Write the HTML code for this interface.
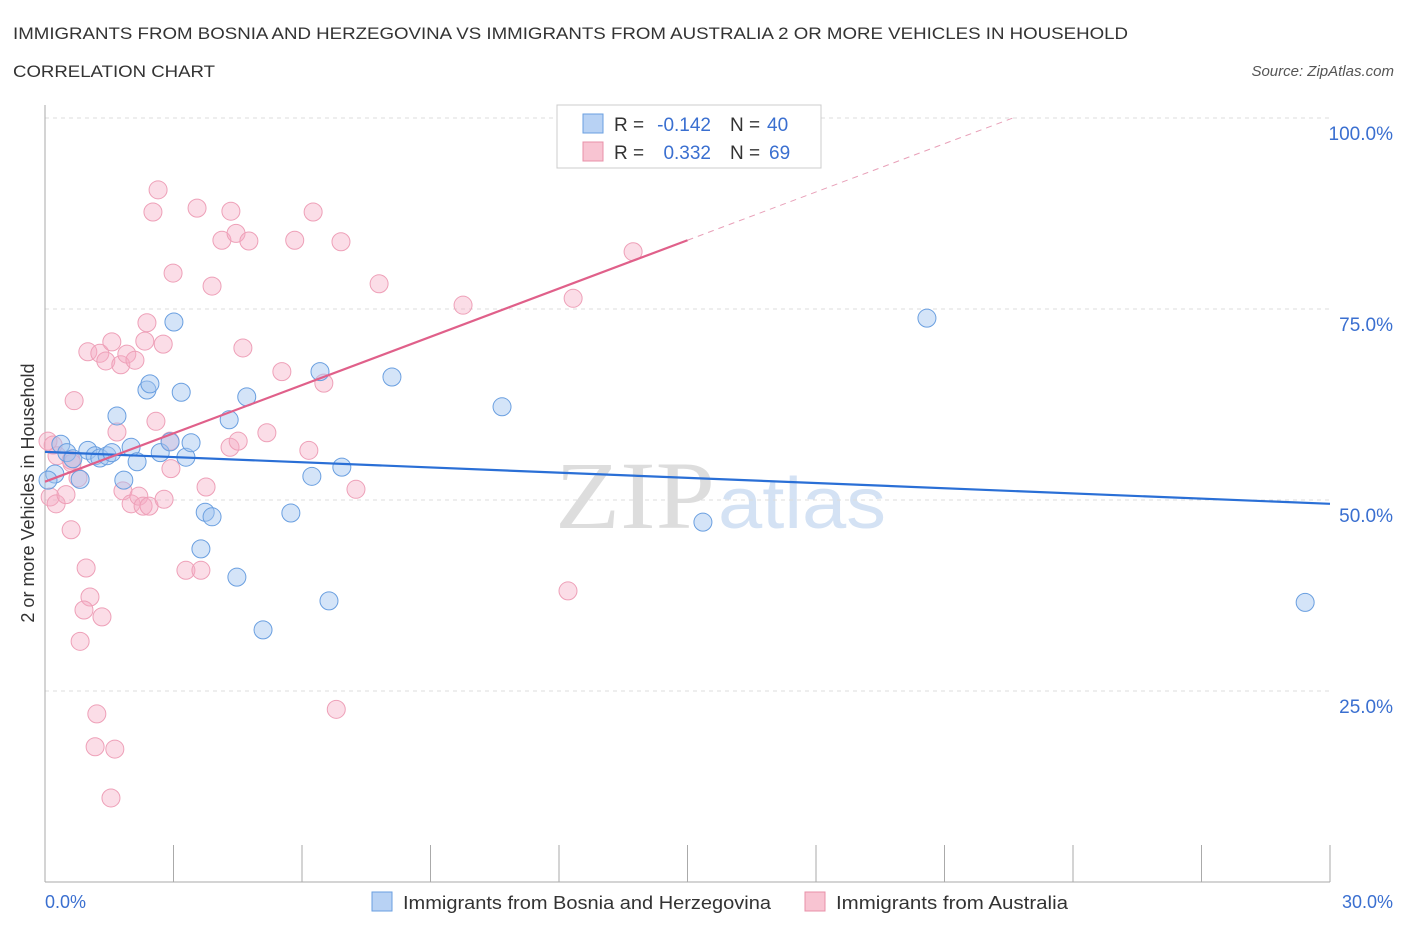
<!DOCTYPE html>
<html><head><meta charset="utf-8"><style>
body{margin:0;background:#fff;font-family:"Liberation Sans",sans-serif;}
svg{display:block}
</style></head><body>
<svg id="c" width="1406" height="930">
<text x="13" y="39" font-size="17" fill="#333" textLength="1115" lengthAdjust="spacingAndGlyphs">IMMIGRANTS FROM BOSNIA AND HERZEGOVINA VS IMMIGRANTS FROM AUSTRALIA 2 OR MORE VEHICLES IN HOUSEHOLD</text>
<text x="13" y="77" font-size="17" fill="#333" textLength="202" lengthAdjust="spacingAndGlyphs">CORRELATION CHART</text>
<text x="1394" y="76" font-size="15" fill="#555" text-anchor="end" font-style="italic">Source: ZipAtlas.com</text>
<text x="555" y="528" font-size="96" fill="#ddd" textLength="160" lengthAdjust="spacingAndGlyphs" font-family="Liberation Serif">ZIP</text>
<text x="718" y="528" font-size="72" fill="#d4e2f4" textLength="168" lengthAdjust="spacingAndGlyphs">atlas</text>
<g id="grid"></g>
<g id="pts"></g>
<g id="lines"></g>
<text transform="translate(34,493) rotate(-90)" font-size="18" fill="#333" text-anchor="middle">2 or more Vehicles in Household</text>
<text x="45" y="908" font-size="18" fill="#3a6fd0">0.0%</text>
<text x="1393" y="908" font-size="18" fill="#3a6fd0" text-anchor="end">30.0%</text>
<g>
<rect x="557" y="105" width="264" height="63" fill="#fff" stroke="#ccc"/>
<rect x="583" y="114" width="20" height="19" fill="#b8d2f4" stroke="#6a9fe0"/>
<rect x="583" y="142" width="20" height="19" fill="#f8c4d2" stroke="#e890a8"/>
<text x="614" y="131" font-size="19" fill="#333">R =</text>
<text x="711" y="131" font-size="19" fill="#3a6fd0" text-anchor="end">-0.142</text>
<text x="730" y="131" font-size="19" fill="#333">N =</text>
<text x="767" y="131" font-size="19" fill="#3a6fd0">40</text>
<text x="614" y="159" font-size="19" fill="#333">R =</text>
<text x="711" y="159" font-size="19" fill="#3a6fd0" text-anchor="end">0.332</text>
<text x="730" y="159" font-size="19" fill="#333">N =</text>
<text x="769" y="159" font-size="19" fill="#3a6fd0">69</text>
</g>
<g>
<rect x="372" y="892" width="20" height="19" fill="#b8d2f4" stroke="#6a9fe0"/>
<text x="403" y="909" font-size="18" fill="#333" textLength="368" lengthAdjust="spacingAndGlyphs">Immigrants from Bosnia and Herzegovina</text>
<rect x="805" y="892" width="20" height="19" fill="#f8c4d2" stroke="#e890a8"/>
<text x="836" y="909" font-size="18" fill="#333" textLength="232" lengthAdjust="spacingAndGlyphs">Immigrants from Australia</text>
</g>
</svg>
<script>
const yTicks=[100,75,50,25];
const yTickLabels=["100.0%","75.0%","50.0%","25.0%"];
const blueX=[0.37,0.23,0.07,0.51,0.65,0.82,1.0,1.17,1.28,1.45,1.56,1.68,1.84,2.01,2.15,2.38,2.45,2.69,2.92,3.01,3.18,3.29,3.41,3.64,3.74,3.90,4.30,4.48,4.71,5.09,5.74,6.23,6.42,6.63,6.93,8.10,10.67,15.36,20.59,29.42];
const blueY=[57.3,53.4,52.6,56.2,55.4,52.7,56.5,55.8,55.5,55.8,56.2,61.0,52.6,56.9,55.0,64.4,65.2,56.2,57.6,73.3,64.1,55.6,57.5,43.6,48.4,47.8,60.5,39.9,63.5,33.0,48.3,53.1,66.8,36.8,54.3,66.1,62.2,47.1,73.8,36.6];
const pinkX=[0.07,0.19,0.28,0.12,0.26,0.49,0.61,0.63,0.68,0.61,0.77,0.96,1.05,0.91,1.33,0.82,1.21,1.17,1.63,1.54,1.0,1.28,1.42,1.56,1.77,1.68,1.82,1.91,2.01,2.10,2.19,2.29,2.33,2.38,2.43,2.52,2.59,2.64,2.76,2.78,2.92,2.94,2.99,3.29,3.55,3.64,3.76,3.90,4.13,4.34,4.46,4.32,4.51,4.62,4.76,5.18,5.53,5.83,6.16,6.26,6.51,6.80,6.91,7.26,7.80,9.76,12.21,12.33,13.73];
const pinkY=[57.7,57.2,55.8,50.4,49.5,50.7,55.2,54.8,63.0,46.1,52.9,41.1,37.3,35.6,34.7,31.5,22.0,17.7,17.4,11.0,69.4,69.2,68.2,70.7,67.7,58.9,51.2,69.1,49.5,68.3,50.5,49.2,70.8,73.2,49.2,87.7,60.3,90.6,70.4,50.1,57.7,54.1,79.7,40.8,88.2,40.8,51.7,78.0,84.0,87.8,84.9,56.9,57.7,69.9,83.9,58.8,66.8,84.0,56.5,87.7,65.3,22.6,83.8,51.4,78.3,75.5,38.1,76.4,82.5];
const blueTrend=[56.3,49.5];
const pinkTrend=[52.4,84.0];
const pinkTrendEnd=15.0;
const X=v=>45+v/30*1285, Y=v=>882-v*7.64;
const NS="http://www.w3.org/2000/svg";
function mk(t,a,p){const e=document.createElementNS(NS,t);for(const k in a)e.setAttribute(k,a[k]);p.appendChild(e);return e;}
const g=document.getElementById('grid');
yTicks.forEach((t,i)=>{
 const l=mk('line',{x1:45,x2:1330,y1:Y(t),y2:Y(t),stroke:'#ddd','stroke-dasharray':'4,4'},g);
 
 
 const tx=mk('text',{x:1393,y:Y(t)+22,'font-size':19,fill:'#3a6fd0','text-anchor':'end'},g);
 tx.textContent=yTickLabels[i];
 
 
});
const ax=mk('line',{x1:45,x2:45,y1:105,y2:882,stroke:'#aaa'},g);


const bx=mk('line',{x1:45,x2:1330,y1:882,y2:882,stroke:'#aaa'},g);


for(let i=0;i<=10;i++){const tk=mk('line',{x1:X(i*3),x2:X(i*3),y1:845,y2:882,stroke:'#aaa'},g);
 
 }
const p=document.getElementById('pts');
pinkX.forEach((x,i)=>{const c=mk('circle',{cx:X(x),cy:Y(pinkY[i]),r:9,fill:'rgba(245,170,195,0.4)',stroke:'#eea0b8','stroke-width':1},p);
 
 });
blueX.forEach((x,i)=>{const c=mk('circle',{cx:X(x),cy:Y(blueY[i]),r:9,fill:'rgba(160,195,240,0.45)',stroke:'#6a9fe0','stroke-width':1},p);
 
 });
const L=document.getElementById('lines');
const bl=mk('line',{x1:X(0),y1:Y(blueTrend[0]),x2:X(30),y2:Y(blueTrend[1]),stroke:'#2a6fd6','stroke-width':2.2},L);


const slope=(pinkTrend[1]-pinkTrend[0])/pinkTrendEnd;
const xEnd=(100-pinkTrend[0])/slope;
const pl=mk('line',{x1:X(0),y1:Y(pinkTrend[0]),x2:X(pinkTrendEnd),y2:Y(pinkTrend[1]),stroke:'#e0608a','stroke-width':2.2},L);


const pd=mk('line',{x1:X(pinkTrendEnd),y1:Y(pinkTrend[1]),x2:X(xEnd),y2:Y(100),stroke:'#e8a0b8','stroke-width':1,'stroke-dasharray':'6,5'},L);


</script>
</body></html>
